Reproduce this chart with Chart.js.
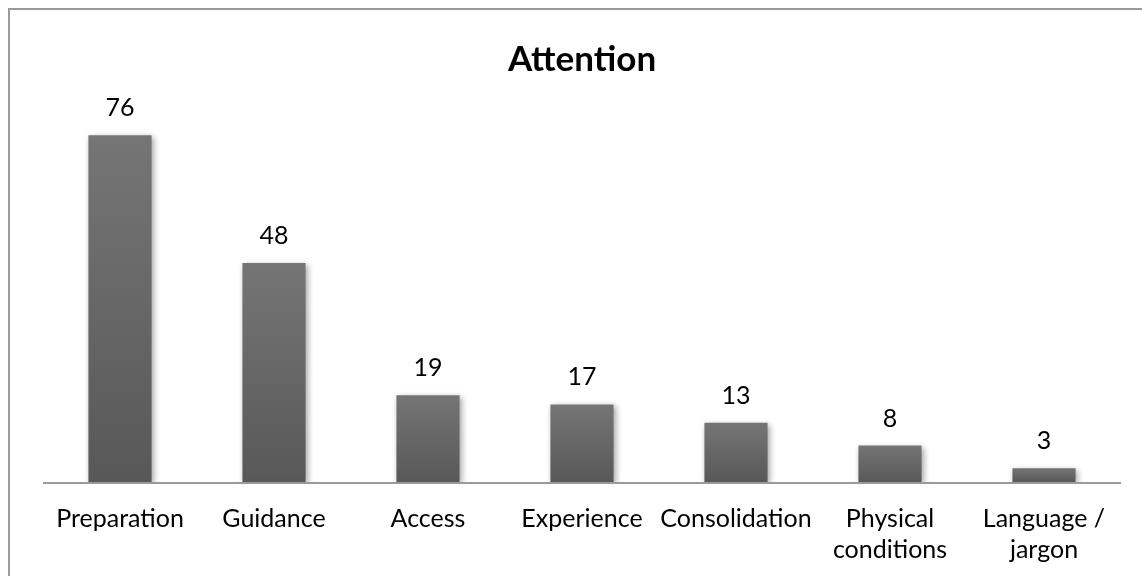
<!DOCTYPE html>
<html>
<head>
<meta charset="utf-8">
<title>Attention</title>
<script src="https://cdn.jsdelivr.net/npm/chart.js@4.4.1/dist/chart.umd.min.js"></script>
<style>
  html, body { margin: 0; padding: 0; background: #fff; }
  #wrap { width: 1142px; height: 576px; }
</style>
</head>
<body>
<div id="wrap"><canvas id="attention"></canvas></div>
<script>
// categories and counts
var categories = ['Preparation', 'Guidance', 'Access', 'Experience', 'Consolidation', ['Physical', 'conditions'], ['Language /', 'jargon']];
var counts = [76, 48, 19, 17, 13, 8, 3];
var yMax = 80;

var FONT = 'Lato, "Open Sans", sans-serif';

// grey gradient, one per bar (light top, dark bottom)
function barFill(ctx) {
  var chart = ctx.chart;
  var y = chart.scales.y;
  if (!chart.chartArea || !y) return '#676767';
  var top = y.getPixelForValue(ctx.raw);
  var bottom = y.getPixelForValue(0);
  if (!isFinite(top) || !isFinite(bottom) || top === bottom) return '#676767';
  var g = chart.ctx.createLinearGradient(0, top, 0, bottom);
  g.addColorStop(0, '#757575');
  g.addColorStop(1, '#585858');
  return g;
}

// frame round the chart
var framePlugin = {
  id: 'frame',
  beforeDraw: function (chart) {
    var c = chart.ctx;
    c.save();
    c.strokeStyle = '#9a9a9a';
    c.lineWidth = 2;
    c.beginPath();
    c.moveTo(9, chart.height + 10);
    c.lineTo(9, 9);
    c.lineTo(chart.width + 10, 9);
    c.stroke();
    c.restore();
  }
};

// soft drop shadow under the bars
var shadowPlugin = {
  id: 'barShadow',
  beforeDatasetsDraw: function (chart) {
    var c = chart.ctx;
    c.save();
    c.shadowColor = 'rgba(0,0,0,0.35)';
    c.shadowBlur = 6;
    c.shadowOffsetX = 2;
    c.shadowOffsetY = 2;
  },
  afterDatasetsDraw: function (chart) {
    chart.ctx.restore();
  }
};

// baseline under the bars + value printed above each bar
var valuePlugin = {
  id: 'values',
  afterDraw: function (chart) {
    var c = chart.ctx;
    var area = chart.chartArea;
    var meta = chart.getDatasetMeta(0);
    var step = meta.data[1].x - meta.data[0].x;
    var x0 = meta.data[0].x - step / 2;
    var x1 = meta.data[meta.data.length - 1].x + step / 2;
    var base = chart.scales.y.getPixelForValue(0);

    c.save();
    c.beginPath();
    c.rect(area.left, 0, area.right - area.left, chart.height);
    c.clip();
    c.strokeStyle = '#9a9a9a';
    c.lineWidth = 2;
    c.beginPath();
    c.moveTo(x0, base + 1);
    c.lineTo(x1, base + 1);
    c.stroke();
    c.restore();

    c.save();
    c.font = '25px ' + FONT;
    c.fillStyle = '#000';
    c.textAlign = 'center';
    c.textBaseline = 'alphabetic';
    meta.data.forEach(function (bar, i) {
      c.fillText(String(counts[i]), bar.x, bar.y - 19);
    });
    c.restore();
  }
};

var ctx = document.getElementById('attention').getContext('2d');
var chart = new Chart(ctx, {
  type: 'bar',
  data: {
    labels: categories,
    datasets: [{
      data: counts,
      backgroundColor: barFill,
      borderWidth: 0,
      categoryPercentage: 1,
      barPercentage: 0.41
    }]
  },
  options: {
    responsive: true,
    maintainAspectRatio: false,
    animation: false,
    layout: { padding: { top: 8, left: 43, right: 21, bottom: 12 } },
    plugins: {
      legend: { display: false },
      tooltip: { enabled: false },
      title: {
        display: true,
        text: 'Attention',
        color: '#000',
        font: { family: FONT, size: 35, weight: 'bold', lineHeight: 1.2 },
        padding: { top: 31, bottom: 36 }
      }
    },
    scales: {
      x: {
        grid: { display: false, drawTicks: false },
        border: { display: false },
        afterFit: function (scale) { scale.height = 82; },
        ticks: {
          color: '#000',
          padding: 22,
          maxRotation: 0,
          autoSkip: false,
          font: { family: FONT, size: 25, lineHeight: 1.22 }
        }
      },
      y: {
        display: false,
        min: 0,
        max: yMax
      }
    }
  },
  plugins: [framePlugin, shadowPlugin, valuePlugin]
});
</script>
</body>
</html>
